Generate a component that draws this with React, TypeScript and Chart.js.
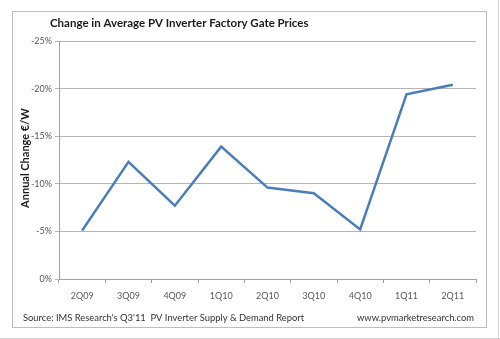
import React, { useEffect, useRef } from "react";
import { Chart, registerables } from "chart.js";

Chart.register(...registerables);

const categories = ["2Q09", "3Q09", "4Q09", "1Q10", "2Q10", "3Q10", "4Q10", "1Q11", "2Q11"];
const annualChange = [-5.1, -12.3, -7.7, -13.9, -9.6, -9.0, -5.2, -19.4, -20.4];
const titleText = "Change in Average PV Inverter Factory Gate Prices";
const yTitleText = "Annual Change €/W";
const sourceText = "Source: IMS Research's Q3'11  PV Inverter Supply & Demand Report";
const urlText = "www.pvmarketresearch.com";

const FONT = "Lato, 'Open Sans', sans-serif";

const decor = {
  id: "decor",
  beforeDraw(chart: any) {
    const ctx = chart.ctx;
    ctx.save();
    ctx.fillStyle = "#ffffff";
    ctx.fillRect(0, 0, chart.width, chart.height);
    ctx.strokeStyle = "#bdbdbd";
    ctx.lineWidth = 1;
    ctx.strokeRect(12.5, 11.5, 474, 316);
    ctx.strokeStyle = "#d0d0d0";
    ctx.beginPath();
    ctx.moveTo(498.5, 0);
    ctx.lineTo(498.5, 339);
    ctx.moveTo(0, 338.5);
    ctx.lineTo(500, 338.5);
    ctx.stroke();
    ctx.restore();
  },
  afterDraw(chart: any) {
    const ctx = chart.ctx;
    ctx.save();
    ctx.fillStyle = "#1a1a1a";
    ctx.font = "bold 11.5px " + FONT;
    ctx.textBaseline = "middle";
    ctx.textAlign = "left";
    ctx.fillText(titleText, 50, 23);

    ctx.save();
    ctx.translate(25, 158);
    ctx.rotate(-Math.PI / 2);
    ctx.textAlign = "center";
    ctx.font = "bold 11px " + FONT;
    ctx.fillText(yTitleText, 0, 0);
    ctx.restore();

    ctx.fillStyle = "#333333";
    ctx.font = "9.4px " + FONT;
    ctx.textAlign = "left";
    ctx.fillText(sourceText, 23, 318);
    ctx.textAlign = "right";
    ctx.fillText(urlText, 474, 318);
    ctx.restore();
  },
};

export default function App() {
  const ref = useRef<HTMLCanvasElement>(null);
  useEffect(() => {
    const chart = new Chart(ref.current!, {
      type: "line",
      data: {
        labels: categories,
        datasets: [
          {
            data: annualChange,
            borderColor: "#4a7ebb",
            borderWidth: 2.5,
            pointRadius: 0,
            tension: 0,
            fill: false,
          },
        ],
      },
      options: {
        animation: false,
        responsive: false,
        layout: { padding: { top: 41, right: 24, left: 0, bottom: 0 } },
        plugins: { legend: { display: false }, tooltip: { enabled: false }, title: { display: false } },
        scales: {
          x: {
            offset: true,
            grid: {
              offset: true,
              drawOnChartArea: false,
              drawTicks: true,
              tickLength: 4,
              color: "#a0a0a0",
            },
            border: { color: "#a0a0a0" },
            ticks: { color: "#595959", font: { family: FONT, size: 9 }, padding: 8, maxRotation: 0 },
            afterFit: (s: any) => {
              s.height = 60;
            },
          },
          y: {
            min: -25,
            max: 0,
            reverse: true,
            grid: { color: "#b4b4b4", tickLength: 4, lineWidth: 1 },
            border: { color: "#a0a0a0" },
            ticks: {
              stepSize: 5,
              color: "#595959",
              font: { family: FONT, size: 9 },
              padding: 3,
              callback: (v: any) => v + "%",
            },
            afterFit: (s: any) => {
              s.width = 59;
            },
          },
        },
      },
      plugins: [decor],
    });
    return () => chart.destroy();
  }, []);
  return (
    <div style={{ position: "absolute", left: 0, top: 0, width: 500, height: 339 }}>
      <canvas ref={ref} width={500} height={339} />
    </div>
  );
}
